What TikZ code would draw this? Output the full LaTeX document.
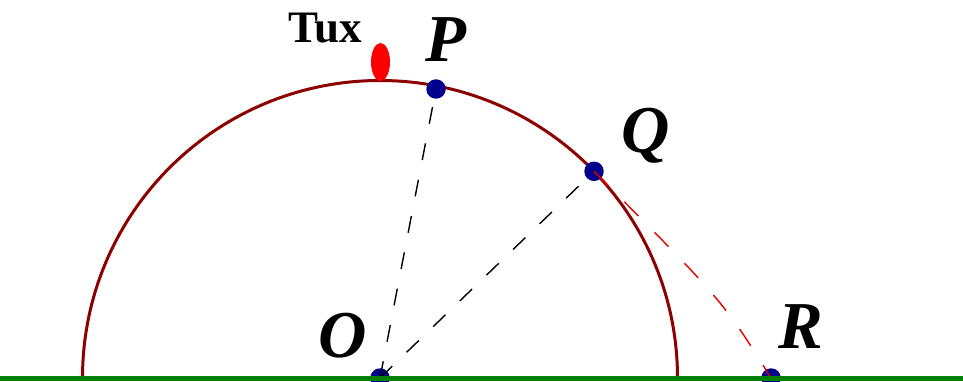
\documentclass[tikz,border=0pt]{standalone}
\usepackage{fontspec}
\setmainfont{Liberation Serif}
\usetikzlibrary{shapes.geometric}
\begin{document}
\begin{tikzpicture}[x=1pt,y=1pt,
  dot/.style={circle,fill=dotblue,inner sep=0pt,minimum size=19.5pt},
  lbl/.style={anchor=base,inner sep=0pt,font=\fontsize{67}{74}\selectfont\bfseries\itshape},
  spoke/.style={black,line width=1.4pt,dash pattern=on 17pt off 20pt},
  traj/.style={red!90!black,line width=1.4pt,dash pattern=on 20pt off 23pt}]
\definecolor{dotblue}{RGB}{0,0,140}
\definecolor{arcred}{RGB}{140,0,0}
\definecolor{ground}{RGB}{0,128,0}
\useasboundingbox (0,0) rectangle (963,381);
\coordinate (O) at (380,3);
\coordinate (L) at (82.5,3);
\coordinate (Rt) at (677.5,3);
\coordinate (C) at (723,80);
\coordinate (G1) at (0,3);
\coordinate (G2) at (963,3);
% semicircle
\draw[arcred,line width=3pt] (L) arc[start angle=180,end angle=0,radius=297.5];
% Tux
\node[ellipse,fill=red,inner sep=0pt,minimum width=19pt,minimum height=38pt] (tux) at (380.5,319) {};
\node[anchor=base,inner sep=0pt,font=\fontsize{45}{52}\selectfont\bfseries] (tuxl) at (325.5,338) {Tux};
% dots
\node[dot] (p) at (436,292) {};
\node[dot] (q) at (594,209.7) {};
\node[dot] (o) at (380,3) {};
\node[dot] (r) at (771,3) {};
% dashed lines
\draw[spoke] (o.center) -- (p.center);
\draw[spoke] (o.center) -- (q.center);
\draw[traj] (q.center) .. controls (C) .. (r.center);
% ground
\draw[ground,line width=5pt] (G1) -- (G2);
% labels
\node[lbl] (pl) at (446,319) {P};
\node[lbl] (ql) at (645.5,229) {Q};
\node[lbl] (ol) at (342.5,24) {O};
\node[lbl] (rl) at (800.5,33) {R};
\end{tikzpicture}
\end{document}
